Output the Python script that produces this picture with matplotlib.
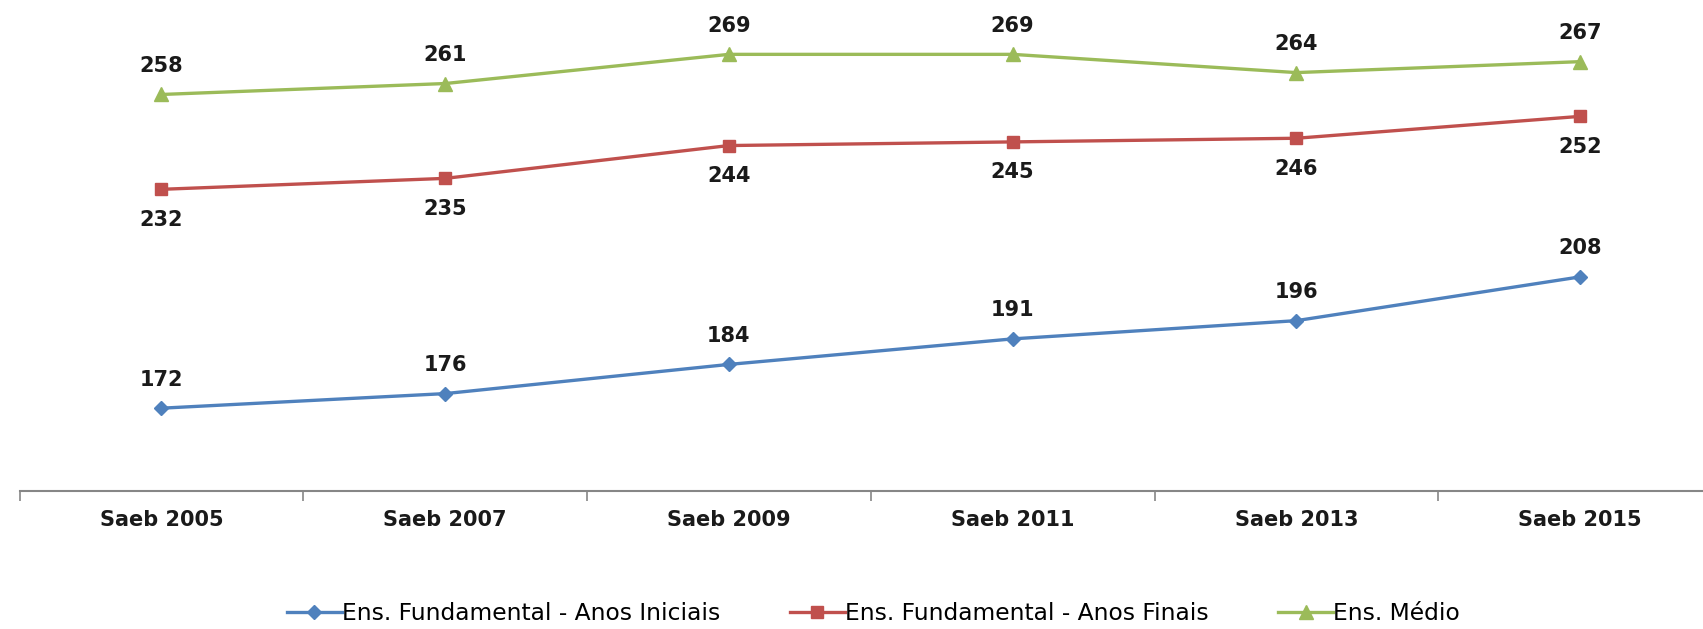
import matplotlib
matplotlib.use("Agg")
import matplotlib.pyplot as plt
from matplotlib.lines import Line2D

categories = ["Saeb 2005", "Saeb 2007", "Saeb 2009", "Saeb 2011", "Saeb 2013", "Saeb 2015"]
anos_iniciais = [172, 176, 184, 191, 196, 208]
anos_finais = [232, 235, 244, 245, 246, 252]
ens_medio = [258, 261, 269, 269, 264, 267]
series_names = ["Ens. Fundamental - Anos Iniciais", "Ens. Fundamental - Anos Finais", "Ens. Médio"]

colors = ["#4F81BD", "#C0504D", "#9BBB59"]
markers = ["D", "s", "^"]
msizes = [7, 9, 10]
label_offsets = [20.5, -22, 20.5]  # points above (+) / below (-)

W, H = 1703, 629
fig = plt.figure(figsize=(W / 100, H / 100), dpi=100)
ax = fig.add_axes([19.5 / W, (H - 491) / H, 1702.5 / W, 491 / H])

x = list(range(len(categories)))
for vals, c, m, ms, off, name in zip([anos_iniciais, anos_finais, ens_medio], colors, markers,
                                       msizes, label_offsets, series_names):
    ax.plot(x, vals, color=c, lw=2.4, marker=m, ms=ms, mfc=c, mec=c, label=name)
    for xi, v in zip(x, vals):
        ax.annotate(str(v), (xi, v), xytext=(0, off), textcoords="offset points",
                    ha="center", va="center", fontsize=15, fontweight="bold", color="#1a1a1a")

ax.set_xlim(-0.5, 5.5)
ax.set_ylim(149.3, 283.9)
for s in ["left", "right", "top"]:
    ax.spines[s].set_visible(False)
ax.spines["bottom"].set_color("#868686")
ax.spines["bottom"].set_linewidth(1.5)
ax.set_yticks([])
ax.set_xticks(x)
ax.set_xticklabels(categories, fontsize=15, fontweight="bold", color="#1a1a1a")
ax.tick_params(axis="x", which="major", length=0, pad=13.5)
ax.set_xticks([i - 0.5 for i in range(len(categories) + 1)], minor=True)
ax.tick_params(axis="x", which="minor", length=7, width=1.2, color="#868686", direction="out")

handles = [Line2D([0], [0], color=c, lw=2.4, marker=m, ms=ms, mfc=c, mec=c)
           for c, m, ms in zip(colors, markers, msizes)]
fig.legend(handles, series_names, loc="center", bbox_to_anchor=(873.5 / W, 1 - 614 / H),
           ncol=3, frameon=False, fontsize=16.8, handlelength=2.35, handletextpad=0.0,
           columnspacing=3.0)

fig.savefig("out.png", dpi=100, facecolor="white")
